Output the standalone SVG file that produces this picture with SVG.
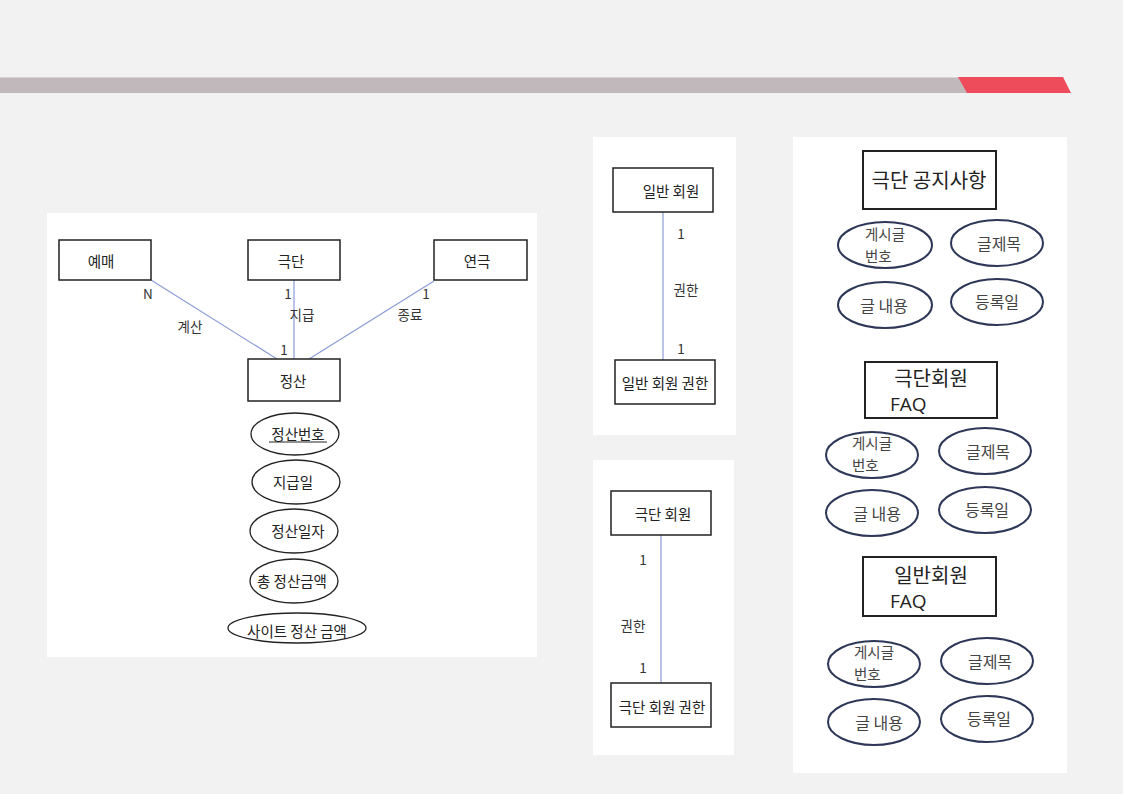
<svg xmlns="http://www.w3.org/2000/svg" width="1123" height="794" viewBox="0 0 1123 794">
<style>
text{font-family:"Noto Sans CJK KR","Liberation Sans",sans-serif;fill:#222;}
.t{font-size:14.5px;text-anchor:middle;dominant-baseline:central;}
.lab{font-size:13.5px;text-anchor:middle;dominant-baseline:central;fill:#333;}
.big{font-size:20px;text-anchor:middle;dominant-baseline:central;}
.faq{font-size:19px;font-family:"Open Sans","Noto Sans","Liberation Sans",sans-serif;}
.ent{fill:#fff;stroke:#222;stroke-width:1.5;}
.ent2{fill:#fff;stroke:#222;stroke-width:2;}
.att{fill:#fff;stroke:#222;stroke-width:1.3;}
.att2{fill:#fff;stroke:#2d3757;stroke-width:2;}
.con{stroke:#8a9cd6;stroke-width:1.2;fill:none;}
.panel{fill:#fff;}
.at{font-size:16px;text-anchor:middle;dominant-baseline:central;fill:#444;}
.at2{font-size:14.5px;fill:#444;}
</style>
<rect width="1123" height="794" fill="#f2f2f2"/>
<rect x="0" y="77" width="970" height="16" fill="#c1b8bb"/>
<line x1="0" y1="77.5" x2="960" y2="77.5" stroke="#d9d2d4" stroke-width="1"/>
<polygon points="958,77 1063,77 1071,93 967,93" fill="#ef4c5b"/>

<rect class="panel" x="47" y="213" width="490" height="444"/>
<rect class="panel" x="593" y="137" width="143" height="298"/>
<rect class="panel" x="593" y="460" width="141" height="295"/>
<rect class="panel" x="793" y="137" width="274" height="636"/>

<g id="connectors">
<line class="con" x1="151" y1="280" x2="277" y2="359"/>
<line class="con" x1="294" y1="280" x2="294" y2="359"/>
<line class="con" x1="434" y1="281" x2="309" y2="359"/>
<line class="con" x1="663" y1="212" x2="663" y2="360"/>
<line class="con" x1="661" y1="535" x2="661" y2="683"/>
<text class="lab" x="148" y="293">N</text>
<text class="lab" x="190" y="326">계산</text>
<text class="lab" x="288" y="293">1</text>
<text class="lab" x="302" y="314">지급</text>
<text class="lab" x="426" y="293">1</text>
<text class="lab" x="410" y="314">종료</text>
<text class="lab" x="284" y="349">1</text>
<text class="lab" x="681" y="233">1</text>
<text class="lab" x="686" y="289">권한</text>
<text class="lab" x="681" y="348">1</text>
<text class="lab" x="643" y="559">1</text>
<text class="lab" x="633" y="625">권한</text>
<text class="lab" x="643" y="667">1</text>
</g>

<g id="yemae"><rect class="ent" x="59" y="240" width="92" height="40"/><text class="t" x="101" y="260">예매</text></g>
<g id="geukdan"><rect class="ent" x="248" y="240" width="92" height="40"/><text class="t" x="291" y="260">극단</text></g>
<g id="yeongeuk"><rect class="ent" x="434" y="240" width="93" height="40"/><text class="t" x="477" y="260">연극</text></g>
<g id="jeongsan"><rect class="ent" x="248" y="359" width="92" height="42"/><text class="t" x="293" y="380">정산</text></g>

<g id="attr-jeongsanbeonho"><ellipse class="att" cx="295" cy="434" rx="44" ry="21"/><text class="t" x="298" y="433">정산번호</text><line x1="269" y1="442" x2="327" y2="442" stroke="#222" stroke-width="1"/></g>
<g id="attr-jigeubil"><ellipse class="att" cx="296" cy="482" rx="44" ry="22"/><text class="t" x="293" y="481">지급일</text></g>
<g id="attr-jeongsanilja"><ellipse class="att" cx="294" cy="531" rx="44" ry="22"/><text class="t" x="298" y="530">정산일자</text></g>
<g id="attr-chong"><ellipse class="att" cx="294" cy="581" rx="44" ry="22"/><text class="t" x="292" y="580">총 정산금액</text></g>
<g id="attr-site"><ellipse class="att" cx="297" cy="628" rx="69" ry="15"/><text class="t" x="297" y="630">사이트 정산 금액</text></g>

<g id="ilban-hoewon"><rect class="ent" x="613" y="168" width="100" height="44"/><text class="t" x="671" y="190">일반 회원</text></g>
<g id="ilban-hoewon-gwonhan"><rect class="ent" x="615" y="360" width="100" height="44"/><text class="t" x="665" y="382">일반 회원 권한</text></g>
<g id="geukdan-hoewon"><rect class="ent" x="611" y="491" width="100" height="44"/><text class="t" x="663" y="513">극단 회원</text></g>
<g id="geukdan-hoewon-gwonhan"><rect class="ent" x="611" y="683" width="100" height="44"/><text class="t" x="662" y="706">극단 회원 권한</text></g>

<g id="notice"><rect class="ent2" x="863" y="151" width="133" height="58"/><text class="big" x="929" y="179">극단 공지사항</text></g>
<g id="notice-attrs">
<ellipse class="att2" cx="885" cy="245" rx="47" ry="23"/><text class="at2" x="865" y="240">게시글<tspan x="865" dy="21.5">번호</tspan></text>
<ellipse class="att2" cx="997" cy="243" rx="46" ry="23"/><text class="at" x="999" y="243">글제목</text>
<ellipse class="att2" cx="885" cy="305" rx="47" ry="23"/><text class="at" x="884" y="305">글 내용</text>
<ellipse class="att2" cx="997" cy="302" rx="46" ry="23"/><text class="at" x="997" y="301">등록일</text>
</g>

<g id="geukdan-faq"><rect class="ent2" x="865" y="362" width="132" height="56"/><text class="big" x="931" y="377">극단회원</text><text class="faq" x="890" y="411">FAQ</text></g>
<g id="geukdan-faq-attrs">
<ellipse class="att2" cx="872" cy="455" rx="46" ry="23"/><text class="at2" x="852" y="449">게시글<tspan x="852" dy="21.5">번호</tspan></text>
<ellipse class="att2" cx="985" cy="451" rx="46" ry="23"/><text class="at" x="988" y="451">글제목</text>
<ellipse class="att2" cx="872" cy="513" rx="46" ry="23"/><text class="at" x="877" y="513">글 내용</text>
<ellipse class="att2" cx="985" cy="510" rx="46" ry="23"/><text class="at" x="987" y="509">등록일</text>
</g>

<g id="ilban-faq"><rect class="ent2" x="863" y="557" width="133" height="59"/><text class="big" x="931" y="574">일반회원</text><text class="faq" x="890" y="608">FAQ</text></g>
<g id="ilban-faq-attrs">
<ellipse class="att2" cx="874" cy="664" rx="46" ry="23"/><text class="at2" x="854" y="658">게시글<tspan x="854" dy="21.5">번호</tspan></text>
<ellipse class="att2" cx="987" cy="661" rx="46" ry="23"/><text class="at" x="990" y="661">글제목</text>
<ellipse class="att2" cx="874" cy="722" rx="46" ry="23"/><text class="at" x="879" y="722">글 내용</text>
<ellipse class="att2" cx="987" cy="719" rx="46" ry="23"/><text class="at" x="989" y="718">등록일</text>
</g>
</svg>
